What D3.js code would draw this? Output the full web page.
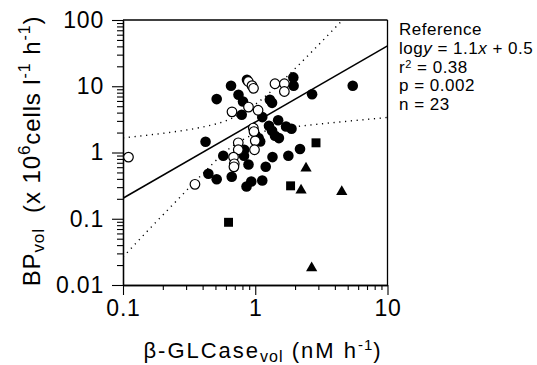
<!DOCTYPE html>
<html><head><meta charset="utf-8">
<script src="https://cdn.jsdelivr.net/npm/d3@7"></script>
<style>
html,body{margin:0;padding:0;background:#fff;}
svg text{font-family:"Liberation Sans",Arial,Helvetica,sans-serif;fill:#000;}
</style></head>
<body><svg id="c" width="537" height="365"></svg>
<script>
// ---- data ----
const xMajor = [0.1, 1, 10];
const xMajorLabels = ["0.1", "1", "10"];
const yMajor = [0.01, 0.1, 1, 10, 100];
const yMajorLabels = ["0.01", "0.1", "1", "10", "100"];

const filledX = [0.511,0.656,0.866,0.747,0.808,0.790,1.29,1.34,1.94,1.95,2.69,5.46,1.13,0.421,1.27,1.34,1.41,1.51,1.49,1.71,1.88,1.06,1.09,2.18,1.78,1.35,1.20,0.889,0.822,0.573,0.442,0.511,0.664,0.859,0.933,1.13,0.826];
const filledY = [6.40,10.2,12.5,7.43,5.89,3.71,6.25,5.62,13.6,10.2,7.56,10.2,3.42,1.45,2.53,2.13,1.79,1.65,3.06,2.47,2.28,1.65,1.47,1.13,0.892,0.852,0.608,0.659,0.892,0.892,0.477,0.394,0.430,0.307,0.365,0.378,1.10];

const openX = [0.110,0.350,0.886,0.945,0.970,1.41,1.66,1.66,0.667,0.889,1.05,0.967,0.978,1.00,0.744,0.744,0.987,0.685,0.694,0.690];
const openY = [0.852,0.331,11.8,10.2,9.31,10.9,10.9,8.33,4.11,4.85,4.34,2.34,2.07,1.50,1.40,1.10,1.10,0.852,0.675,0.608];

const squareX = [2.88,1.85,0.628];
const squareY = [1.40,0.314,0.0884];

const triangleX = [2.42,2.22,4.51,2.67];
const triangleY = [0.577,0.269,0.255,0.018];

const fitX = [0.1, 10];
const fitY = [0.204, 40.7];

const upperX = [0.1,0.158,0.251,0.398,0.631,1,1.585,2.512,3.981,5.012];
const upperY = [1.66,1.84,2.07,2.42,3.13,5.32,11.8,29.2,75.0,120.8];
const lowerX = [0.1,0.158,0.251,0.398,0.631,1,1.585,2.512,3.981,6.31,10];
const lowerY = [0.0264,0.0697,0.182,0.470,1.13,1.91,2.30,2.58,2.84,3.10,3.38];

// ---- layout ----
const svg = d3.select("#c");
const L = 123, R = 387.5, T = 20, B = 285;
const x = d3.scaleLog().domain([0.1, 10]).range([L, R]);
const y = d3.scaleLog().domain([0.01, 100]).range([B, T]);

const minorOf = (lo, hi) => {
  const out = [];
  for (let e = Math.log10(lo); e < Math.log10(hi) - 1e-9; e++)
    for (let k = 2; k <= 9; k++) out.push(k * Math.pow(10, e));
  return out;
};

// clip
svg.append("clipPath").attr("id","pa").append("rect")
  .attr("x", L).attr("y", T).attr("width", R - L).attr("height", B - T);

// axes
const ax = svg.append("g").attr("transform", `translate(0,${B})`);
ax.call(d3.axisBottom(x).tickValues(minorOf(0.1,10)).tickSize(5).tickFormat("").tickSizeOuter(0));
const axM = svg.append("g").attr("transform", `translate(0,${B})`);
axM.call(d3.axisBottom(x).tickValues(xMajor).tickSize(10).tickSizeOuter(0)
  .tickFormat((d,i) => xMajorLabels[i]).tickPadding(5));
const ay = svg.append("g").attr("transform", `translate(${L},0)`);
ay.call(d3.axisLeft(y).tickValues(minorOf(0.01,100)).tickSize(6).tickFormat("").tickSizeOuter(0));
const ayM = svg.append("g").attr("transform", `translate(${L},0)`);
ayM.call(d3.axisLeft(y).tickValues(yMajor).tickSize(11).tickSizeOuter(0)
  .tickFormat((d,i) => yMajorLabels[i]).tickPadding(8));

svg.selectAll(".domain").attr("stroke","#000").attr("stroke-width",1.3);
svg.selectAll(".tick line").attr("stroke","#000").attr("stroke-width",1.1);
svg.selectAll(".tick text").style("font-size","23px").style("letter-spacing","0.8px");

// top & right frame
svg.append("line").attr("x1", x(0.1)).attr("x2", x(10)).attr("y1", y(100)).attr("y2", y(100))
  .attr("stroke","#000").attr("stroke-width",1.3);
svg.append("line").attr("x1", x(10)).attr("x2", x(10)).attr("y1", y(100)).attr("y2", y(0.01))
  .attr("stroke","#000").attr("stroke-width",1.3);

const plot = svg.append("g").attr("clip-path","url(#pa)");

// confidence bands
const bandLine = d3.line().x(d => x(d[0])).y(d => y(d[1])).curve(d3.curveMonotoneX);
plot.append("path").datum(upperX.map((v,i)=>[v,upperY[i]])).attr("d", bandLine)
  .attr("fill","none").attr("stroke","#000").attr("stroke-width",1.4)
  .attr("stroke-dasharray","1.2,4.6");
plot.append("path").datum(lowerX.map((v,i)=>[v,lowerY[i]])).attr("d", bandLine)
  .attr("fill","none").attr("stroke","#000").attr("stroke-width",1.4)
  .attr("stroke-dasharray","1.2,4.6");

// regression line
plot.append("path").datum(fitX.map((v,i)=>[v,fitY[i]]))
  .attr("d", d3.line().x(d => x(d[0])).y(d => y(d[1])))
  .attr("fill","none").attr("stroke","#000").attr("stroke-width",1.5);

// markers
const pts = svg.append("g");
pts.selectAll("circle.f").data(filledX.map((v,i)=>[v,filledY[i]])).join("circle")
  .attr("class","f").attr("cx", d => x(d[0])).attr("cy", d => y(d[1])).attr("r", 5.3)
  .attr("fill","#000");
pts.selectAll("circle.o").data(openX.map((v,i)=>[v,openY[i]])).join("circle")
  .attr("class","o").attr("cx", d => x(d[0])).attr("cy", d => y(d[1])).attr("r", 4.8)
  .attr("fill","#fff").attr("stroke","#000").attr("stroke-width",1.2);
pts.selectAll("path.sq").data(squareX.map((v,i)=>[v,squareY[i]])).join("path")
  .attr("class","sq").attr("d", d3.symbol(d3.symbolSquare, 80))
  .attr("transform", d => `translate(${x(d[0])},${y(d[1])})`).attr("fill","#000");
pts.selectAll("path.tr").data(triangleX.map((v,i)=>[v,triangleY[i]])).join("path")
  .attr("class","tr").attr("d", d3.symbol(d3.symbolTriangle, 55))
  .attr("transform", d => `translate(${x(d[0])},${y(d[1])})`).attr("fill","#000");

// axis titles
const xt = svg.append("text").attr("x", 263).attr("y", 358).attr("text-anchor","middle")
  .style("font-size","22px").style("letter-spacing","2px").style("white-space","pre");
xt.append("tspan").text("β-GLCase");
xt.append("tspan").attr("baseline-shift","-25%").style("font-size","16px").style("letter-spacing","1px").text("vol");
xt.append("tspan").text(" (nM h");
xt.append("tspan").attr("baseline-shift","55%").style("font-size","15px").style("letter-spacing","1px").text("-1");
xt.append("tspan").text(")");

const yt = svg.append("text").attr("transform","translate(40,151) rotate(-90)")
  .attr("text-anchor","middle").style("font-size","24px").style("letter-spacing","0.9px")
  .style("white-space","pre");
yt.append("tspan").text("BP");
yt.append("tspan").attr("baseline-shift","-25%").style("font-size","17px").text("vol");
yt.append("tspan").text("  (x 10");
yt.append("tspan").attr("baseline-shift","60%").style("font-size","17px").text("6");
yt.append("tspan").text("cells l");
yt.append("tspan").attr("baseline-shift","60%").style("font-size","16px").text("-1");
yt.append("tspan").text(" h");
yt.append("tspan").attr("baseline-shift","60%").style("font-size","16px").text("-1");
yt.append("tspan").text(")");

// annotation
const ann = svg.append("g").style("font-size","17px").style("letter-spacing","0.5px");
ann.append("text").attr("x", 399).attr("y", 35).text("Reference");
const a1 = ann.append("text").attr("x", 399).attr("y", 53.5);
a1.append("tspan").text("log");
a1.append("tspan").style("font-style","italic").text("y");
a1.append("tspan").text(" = 1.1");
a1.append("tspan").style("font-style","italic").text("x");
a1.append("tspan").text(" + 0.5");
const a2 = ann.append("text").attr("x", 399).attr("y", 72.5);
a2.append("tspan").text("r");
a2.append("tspan").attr("baseline-shift","50%").style("font-size","11px").text("2");
a2.append("tspan").text(" = 0.38");
ann.append("text").attr("x", 399).attr("y", 91).text("p = 0.002");
ann.append("text").attr("x", 399).attr("y", 110).text("n = 23");
</script></body></html>
